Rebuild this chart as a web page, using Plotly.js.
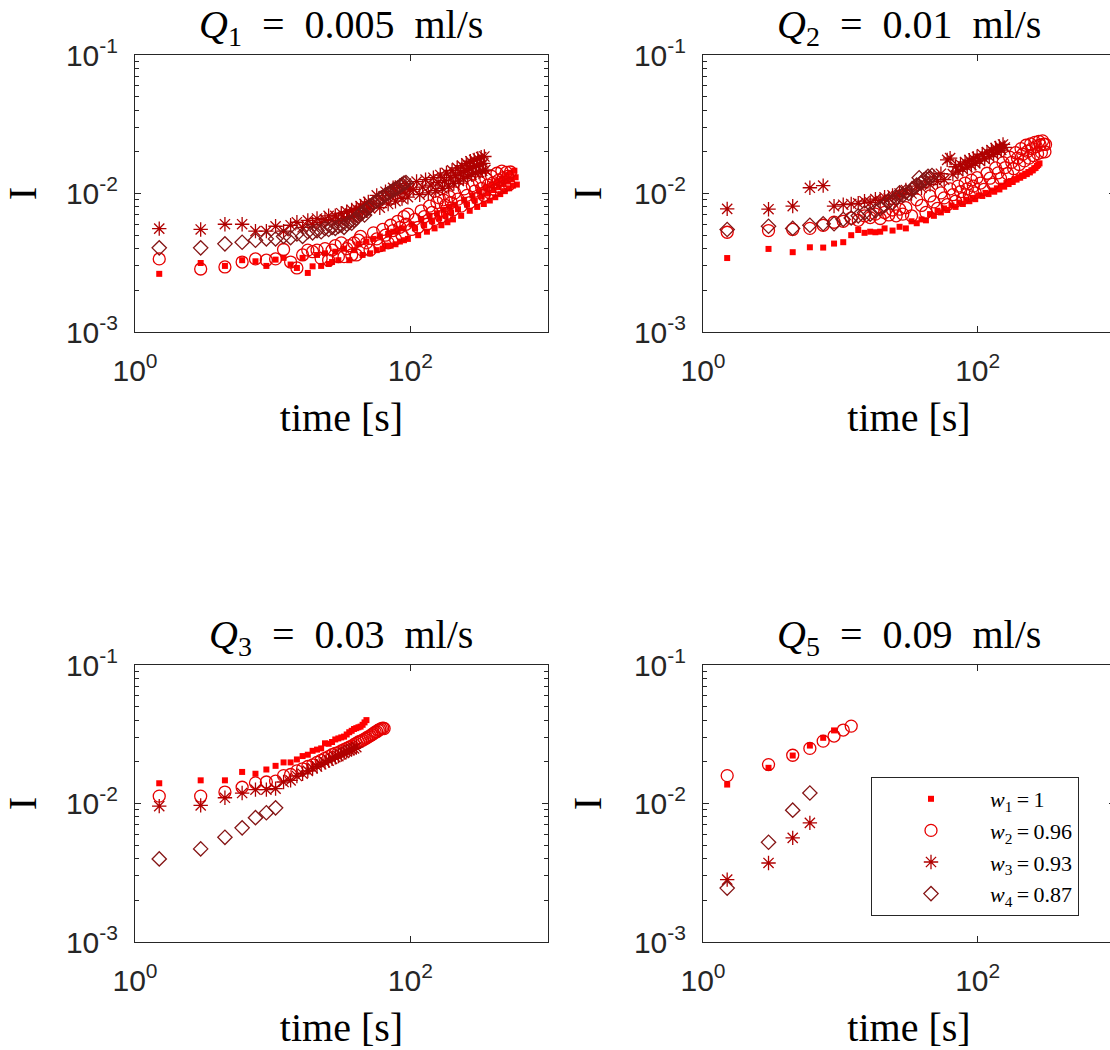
<!DOCTYPE html>
<html><head><meta charset="utf-8">
<script src="https://cdn.plot.ly/plotly-3.0.1.min.js"></script>
<style>html,body{margin:0;padding:0;overflow:hidden;background:#fff;} #chart{width:1120px;height:1050px;}</style>
</head><body><div id="chart"></div>
<script>
// ---------- Q1 = 0.005 ml/s ----------
const q1SqT = [1.5,3,4.5,6,7.5,9,10.5,12,13.5,15,16.5,18,19.5,
  21,22.5,24,25.5,27,28.5,30,33,36,39,42,45,48,51,54,57,60,63,66,69,72,75,78,81,84,87,90,
  96,102,108,114,120,126,132,138,144,150,156,162,168,174,180,186,192,198,204,210,
  222,234,246,258,270,282,294,306,318,330,342,354,366,378,390,402,414,426,438,450,462,474,486,498,510,522,534,546,558,570,582,594];
const q1SqI = [2.63e-3,3.15e-3,3.0e-3,3.3e-3,3.24e-3,3.0e-3,3.33e-3,3.43e-3,3.07e-3,2.9e-3,3.43e-3,2.67e-3,2.98e-3,
  3.6e-3,3.0e-3,3.7e-3,3.1e-3,3.2e-3,3.8e-3,3.3e-3,4.0e-3,3.3e-3,3.9e-3,4.3e-3,3.6e-3,4.5e-3,3.7e-3,4.7e-3,3.9e-3,4.9e-3,4.0e-3,4.2e-3,5.1e-3,4.2e-3,5.3e-3,4.3e-3,5.4e-3,4.5e-3,5.6e-3,4.6e-3,
  4.7e-3,6.0e-3,5.6e-3,5.0e-3,6.5e-3,5.9e-3,5.3e-3,6.9e-3,6.3e-3,5.6e-3,7.2e-3,6.6e-3,5.9e-3,7.6e-3,6.9e-3,6.2e-3,8.0e-3,7.3e-3,6.5e-3,8.3e-3,
  7.7e-3,6.9e-3,9.0e-3,8.3e-3,7.5e-3,9.7e-3,8.9e-3,8.0e-3,1.04e-2,9.5e-3,8.4e-3,1.1e-2,1.0e-2,8.9e-3,1.16e-2,1.06e-2,9.4e-3,1.22e-2,1.11e-2,9.9e-3,1.28e-2,1.17e-2,1.04e-2,1.34e-2,1.22e-2,1.09e-2,1.41e-2,1.27e-2,1.14e-2,1.46e-2,1.31e-2,1.16e-2];
const q1CiT = [1.5,3,4.5,6,7.5,9,10.5,12,13.5,15,16.5,18,19.5,
  21,22.5,24,25.5,27,28.5,30,31.5,33,34.5,36,37.5,39,40.5,42,43.5,45,
  48,51,54,57,60,63,66,69,72,75,78,81,84,87,90,93,96,
  102,108,114,120,126,132,138,144,150,156,162,168,174,180,186,192,198,204,210,
  222,234,246,258,270,282,294,306,318,330,342,354,366,378,390,402,414,426,438,450,462,474,486,498,510,522,534];
const q1CiI = [3.37e-3,2.85e-3,2.95e-3,3.2e-3,3.37e-3,3.3e-3,3.37e-3,3.94e-3,3.2e-3,2.9e-3,3.6e-3,3.9e-3,3.8e-3,
  3.9e-3,3.4e-3,4.0e-3,3.3e-3,3.9e-3,4.2e-3,3.5e-3,4.4e-3,3.5e-3,4.0e-3,4.2e-3,3.6e-3,4.4e-3,3.6e-3,4.6e-3,4.9e-3,3.9e-3,
  4.4e-3,3.9e-3,5.2e-3,4.7e-3,4.2e-3,5.5e-3,5.0e-3,4.4e-3,5.9e-3,5.4e-3,4.7e-3,6.3e-3,5.7e-3,5.0e-3,6.8e-3,6.0e-3,7.1e-3,
  5.5e-3,6.5e-3,5.7e-3,7.5e-3,6.8e-3,6.0e-3,8.1e-3,7.3e-3,6.5e-3,8.6e-3,9.3e-3,6.8e-3,9.0e-3,8.2e-3,7.2e-3,9.5e-3,8.6e-3,7.6e-3,1.01e-2,
  9.1e-3,8.1e-3,1.08e-2,9.7e-3,8.6e-3,1.14e-2,1.04e-2,9.2e-3,1.21e-2,1.09e-2,9.7e-3,1.28e-2,1.15e-2,1.01e-2,1.33e-2,1.2e-2,1.06e-2,1.4e-2,1.25e-2,1.1e-2,1.45e-2,1.3e-2,1.14e-2,1.42e-2,1.33e-2,1.16e-2,1.43e-2];
const q1AsT = [1.5,3,4.5,6,7.5,9,10.5,12,13.5,15,16.5,18,19.5,21,22.5,24,25.5,27,
  28.5,30,31.5,33,34.5,36,37.5,39,40.5,42,43.5,45,46.5,48,49.5,51,
  54,57,60,63,66,69,72,75,78,81,84,87,90,93,96,99,
  105,111,117,123,129,135,141,147,153,159,165,171,177,183,189,195,201,207,213,219,225,231,237,243,249,255,261,267,273,279,285,291,297,303,309,315,321,327,333,339,345,351];
const q1AsI = [5.58e-3,5.5e-3,6.0e-3,6.0e-3,5.35e-3,5.35e-3,5.8e-3,5.35e-3,5.9e-3,6.2e-3,5.7e-3,6.4e-3,6.0e-3,6.6e-3,6.2e-3,6.5e-3,6.9e-3,6.4e-3,
  6.9e-3,6.4e-3,7.2e-3,6.6e-3,7.4e-3,6.8e-3,7.6e-3,6.9e-3,7.8e-3,7.1e-3,8.1e-3,7.3e-3,8.4e-3,7.5e-3,8.7e-3,7.8e-3,
  8.5e-3,9.7e-3,7.9e-3,9.1e-3,1.03e-2,8.4e-3,9.6e-3,1.1e-2,8.8e-3,1.0e-2,1.14e-2,9.2e-3,1.04e-2,1.18e-2,9.4e-3,1.07e-2,
  1.07e-2,1.22e-2,9.8e-3,1.11e-2,1.26e-2,1.01e-2,1.15e-2,1.3e-2,1.05e-2,1.2e-2,1.36e-2,1.09e-2,1.24e-2,1.41e-2,1.13e-2,1.3e-2,1.47e-2,1.18e-2,1.35e-2,1.53e-2,
  1.23e-2,1.41e-2,1.59e-2,1.28e-2,1.46e-2,1.65e-2,1.33e-2,1.51e-2,1.71e-2,1.37e-2,1.56e-2,1.75e-2,1.41e-2,1.59e-2,1.79e-2,1.43e-2,1.62e-2,1.83e-2,1.46e-2,1.65e-2,1.85e-2,1.48e-2];
const q1DiT = [1.5,3,4.5,6,7.5,9,10.5,12,13.5,15,16.5,18,19.5,21,22.5,24,25.5,27,28.5,30,31.5,33,34.5,36,37.5,39,40.5,42,43.5,45,46.5,48,49.5,51,54,57,60,63,66,69,72,75,78,81,84,87,90,93];
const q1DiI = [4.05e-3,4.05e-3,4.33e-3,4.45e-3,4.6e-3,4.7e-3,4.7e-3,4.9e-3,4.8e-3,5.1e-3,4.9e-3,5.3e-3,5.2e-3,5.4e-3,5.3e-3,5.6e-3,5.5e-3,5.7e-3,5.6e-3,5.8e-3,5.9e-3,5.7e-3,6.0e-3,6.2e-3,6.1e-3,6.4e-3,6.6e-3,6.9e-3,7.1e-3,7.3e-3,7.0e-3,7.6e-3,7.9e-3,8.1e-3,8.5e-3,8.8e-3,9.2e-3,9.4e-3,9.8e-3,1.0e-2,1.03e-2,1.06e-2,1.08e-2,1.1e-2,1.13e-2,1.16e-2,1.19e-2,1.2e-2];

// ---------- Q2 = 0.01 ml/s ----------
const q2SqT = [1.5,3,4.5,6,7.5,9,10.5,12,13.5,15,16.5,18,19.5,
  21,24,27,30,33,36,39,42,45,48,51,54,57,60,
  64.5,69,73.5,78,82.5,87,91.5,96,
  102,108,114,120,126,132,138,144,150,156,162,168,174,180,186,192,198,204,210,216,222,228,234,240,246,252,258,264,270,276,282];
const q2SqI = [3.42e-3,3.98e-3,3.77e-3,4.09e-3,4.07e-3,4.35e-3,4.45e-3,5.0e-3,5.45e-3,5.2e-3,5.3e-3,5.25e-3,5.3e-3,
  5.6e-3,5.4e-3,5.75e-3,5.6e-3,6.3e-3,6.1e-3,6.5e-3,6.4e-3,7.1e-3,6.9e-3,7.5e-3,7.3e-3,7.8e-3,7.6e-3,
  8.2e-3,8.0e-3,8.6e-3,8.4e-3,9.0e-3,8.8e-3,9.3e-3,9.1e-3,
  9.7e-3,9.6e-3,1.01e-2,9.9e-3,1.05e-2,1.03e-2,1.09e-2,1.07e-2,1.14e-2,1.12e-2,1.19e-2,1.17e-2,1.23e-2,1.21e-2,1.27e-2,1.26e-2,1.31e-2,1.3e-2,1.35e-2,1.34e-2,1.39e-2,1.38e-2,1.43e-2,1.42e-2,1.47e-2,1.47e-2,1.52e-2,1.53e-2,1.58e-2,1.61e-2,1.65e-2];
const q2CiT = [1.5,3,4.5,6,7.5,9,10.5,12,13.5,15,16.5,18,19.5,21,22.5,24,25.5,27,28.5,30,
  33,36,39,42,45,48,51,54,57,60,63,66,69,72,75,78,81,84,87,90,93,96,99,
  105,111,117,123,129,135,141,147,153,159,165,171,177,183,189,195,201,207,213,219,225,231,237,243,249,255,261,267,273,279,285,291,297,303,309,312];
const q2CiI = [5.25e-3,5.4e-3,5.5e-3,5.6e-3,5.9e-3,6.2e-3,6.3e-3,6.65e-3,6.4e-3,6.9e-3,6.7e-3,7.1e-3,6.6e-3,7.3e-3,7.0e-3,7.6e-3,6.9e-3,7.7e-3,7.1e-3,7.9e-3,
  6.9e-3,9.0e-3,8.2e-3,7.3e-3,9.6e-3,8.7e-3,7.8e-3,1.01e-2,9.3e-3,8.3e-3,1.08e-2,9.8e-3,8.8e-3,1.13e-2,1.03e-2,9.2e-3,1.19e-2,1.08e-2,9.7e-3,1.25e-2,1.13e-2,1.01e-2,1.3e-2,
  1.19e-2,1.07e-2,1.4e-2,1.29e-2,1.17e-2,1.53e-2,1.41e-2,1.28e-2,1.67e-2,1.54e-2,1.39e-2,1.83e-2,1.68e-2,1.51e-2,1.97e-2,1.8e-2,1.62e-2,2.11e-2,1.92e-2,1.72e-2,2.23e-2,2.02e-2,1.8e-2,2.28e-2,2.11e-2,1.88e-2,2.34e-2,2.18e-2,1.94e-2,2.38e-2,2.24e-2,1.98e-2,2.4e-2,2.27e-2,2.0e-2,2.26e-2];
const q2AsT = [1.5,3,4.5,6,7.5,9,10.5,12,13.5,15,16.5,18,19.5,21,22.5,24,25.5,27,28.5,30,
  33,36,39,42,45,48,51,54,57,60,63,66,69,72,75,78,81,84,87,90,93,96,99,
  103.5,108,112.5,117,121.5,126,130.5,135,139.5,144,148.5,153,157.5];
const q2AsI = [7.75e-3,7.7e-3,8.1e-3,1.1e-2,1.14e-2,8.1e-3,8.3e-3,8.4e-3,8.5e-3,8.8e-3,8.6e-3,9.1e-3,8.9e-3,9.4e-3,9.2e-3,9.7e-3,9.5e-3,1.0e-2,9.8e-3,1.06e-2,
  1.0e-2,1.13e-2,1.1e-2,1.23e-2,1.16e-2,1.32e-2,1.22e-2,1.39e-2,1.26e-2,1.75e-2,1.8e-2,1.38e-2,1.56e-2,1.45e-2,1.62e-2,1.5e-2,1.69e-2,1.55e-2,1.74e-2,1.6e-2,1.79e-2,1.65e-2,1.84e-2,
  1.72e-2,1.92e-2,1.78e-2,1.99e-2,1.85e-2,2.06e-2,1.92e-2,2.13e-2,1.99e-2,2.19e-2,2.06e-2,2.26e-2,2.15e-2];
const q2DiT = [1.5,3,4.5,6,7.5,9,10.5,12,13.5,15,16.5,18,19.5,21,22.5,24,25.5,27,28.5,30,31.5,33,34.5,36,37.5,39,40.5,42,43.5,45,46.5];
const q2DiI = [5.5e-3,5.8e-3,5.6e-3,5.9e-3,6.05e-3,6.05e-3,6.5e-3,6.65e-3,6.9e-3,7.25e-3,7.1e-3,7.5e-3,7.8e-3,8.2e-3,8.8e-3,8.6e-3,9.3e-3,1.01e-2,9.7e-3,1.03e-2,1.0e-2,1.07e-2,1.1e-2,1.15e-2,1.3e-2,1.2e-2,1.25e-2,1.28e-2,1.33e-2,1.3e-2,1.35e-2];

// ---------- Q3 = 0.03 ml/s ----------
const q3SqT = [1.5,3,4.5,6,7.5,9,10.5,12,13.5,15,16.5,18,19.5,21,22.5,24,25.5,27,28.5,30,31.5,33,34.5,36,37.5,39,40.5,42,43.5,45,46.5,48];
const q3SqI = [1.4e-2,1.47e-2,1.47e-2,1.69e-2,1.64e-2,1.76e-2,1.87e-2,1.98e-2,1.98e-2,2.08e-2,2.2e-2,2.25e-2,2.4e-2,2.45e-2,2.5e-2,2.72e-2,2.7e-2,2.78e-2,2.9e-2,2.95e-2,3.0e-2,3.04e-2,3.15e-2,3.27e-2,3.35e-2,3.45e-2,3.5e-2,3.55e-2,3.59e-2,3.7e-2,3.85e-2,4.0e-2];
const q3CiT = [1.5,3,4.5,6,7.5,9,10.5,12,13.5,15,16.5,18,19.5,21,22.5,24,25.5,27,28.5,30,31.5,33,34.5,36,37.5,39,40.5,42,43.5,45,46.5,48,49.5,51,52.5,54,55.5,57,58.5,60,61.5,63,64.5];
const q3CiI = [1.13e-2,1.13e-2,1.21e-2,1.31e-2,1.41e-2,1.43e-2,1.45e-2,1.59e-2,1.62e-2,1.72e-2,1.78e-2,1.85e-2,1.9e-2,1.98e-2,2.05e-2,2.12e-2,2.18e-2,2.25e-2,2.3e-2,2.33e-2,2.4e-2,2.45e-2,2.5e-2,2.55e-2,2.6e-2,2.66e-2,2.72e-2,2.78e-2,2.82e-2,2.86e-2,2.92e-2,2.97e-2,3.03e-2,3.08e-2,3.14e-2,3.2e-2,3.27e-2,3.3e-2,3.38e-2,3.42e-2,3.47e-2,3.5e-2,3.48e-2];
const q3AsT = [1.5,3,4.5,6,7.5,9,10.5,12,13.5,15,16.5,18,19.5,21,22.5,24,25.5,27,28.5,30,31.5,33,34.5,36,37.5,39,40.5];
const q3AsI = [9.57e-3,9.7e-3,1.1e-2,1.19e-2,1.26e-2,1.26e-2,1.28e-2,1.43e-2,1.47e-2,1.58e-2,1.64e-2,1.72e-2,1.8e-2,1.85e-2,1.92e-2,1.98e-2,2.04e-2,2.1e-2,2.16e-2,2.2e-2,2.26e-2,2.32e-2,2.38e-2,2.43e-2,2.47e-2,2.5e-2,2.55e-2];
const q3DiT = [1.5,3,4.5,6,7.5,9,10.5];
const q3DiI = [3.98e-3,4.7e-3,5.7e-3,6.67e-3,7.9e-3,8.57e-3,9.3e-3];

// ---------- Q5 = 0.09 ml/s ----------
const q5SqT = [1.5,3,4.5,6,7.5,9];
const q5SqI = [1.37e-2,1.81e-2,2.22e-2,2.62e-2,2.98e-2,3.37e-2];
const q5CiT = [1.5,3,4.5,6,7.5,9,10.5,12];
const q5CiI = [1.59e-2,1.91e-2,2.23e-2,2.5e-2,2.82e-2,3.07e-2,3.39e-2,3.62e-2];
const q5AsT = [1.5,3,4.5,6];
const q5AsI = [2.82e-3,3.72e-3,5.65e-3,7.25e-3];
const q5DiT = [1.5,3,4.5,6];
const q5DiI = [2.45e-3,5.25e-3,8.95e-3,1.19e-2];

const panelTitles = [
  '<i>Q</i><sub>1</sub>\u2002=\u20020.005\u2002ml/s',
  '<i>Q</i><sub>2</sub>\u2002=\u20020.01\u2002ml/s',
  '<i>Q</i><sub>3</sub>\u2002=\u20020.03\u2002ml/s',
  '<i>Q</i><sub>5</sub>\u2002=\u20020.09\u2002ml/s'
];
const seriesNames = ['<i>w</i><sub>1</sub>\u2009=\u20091','<i>w</i><sub>2</sub>\u2009=\u20090.96','<i>w</i><sub>3</sub>\u2009=\u20090.93','<i>w</i><sub>4</sub>\u2009=\u20090.87'];
const xTickVals = [1, 100];
const xTickText = ['10<sup>0</sup>','10<sup>2</sup>'];
const yTickVals = [0.001, 0.01, 0.1];
const yTickText = ['10<sup>-3</sup>','10<sup>-2</sup>','10<sup>-1</sup>'];

// ---------- build ----------
const panels = [
  [[q1SqT,q1SqI],[q1CiT,q1CiI],[q1AsT,q1AsI],[q1DiT,q1DiI]],
  [[q2SqT,q2SqI],[q2CiT,q2CiI],[q2AsT,q2AsI],[q2DiT,q2DiI]],
  [[q3SqT,q3SqI],[q3CiT,q3CiI],[q3AsT,q3AsI],[q3DiT,q3DiI]],
  [[q5SqT,q5SqI],[q5CiT,q5CiI],[q5AsT,q5AsI],[q5DiT,q5DiI]]
];
const styles = [
  {symbol:'square', size:6, color:'#ff0000', line:{width:0}},
  {symbol:'circle-open', size:12, color:'#e60000', line:{width:1.3}},
  {symbol:'asterisk-open', size:12, color:'#b00000', line:{width:1.3, color:'#b00000'}},
  {symbol:'diamond-open', size:11, color:'#851515', line:{width:1.3}}
];
const traces = [];
panels.forEach((p, pi) => {
  p.forEach((s, si) => {
    const sfx = pi === 0 ? '' : String(pi + 1);
    traces.push({
      type:'scatter', mode:'markers', x:s[0], y:s[1],
      xaxis:'x'+sfx, yaxis:'y'+sfx,
      name: seriesNames[si], showlegend: pi === 3,
      marker: styles[si], hoverinfo:'x+y'
    });
  });
});

const W = 1120, H = 1050;
const colL = [135/W, 548/W], colR = [703/W, 1115/W];
const rowT = [1-332/H, 1-55/H], rowB = [1-942/H, 1-665/H];
const minorVals = [];
[0.001, 0.01].forEach(d => { for (let k = 2; k <= 9; k++) minorVals.push(k*d); });

const axCol = '#262626';
const serif = '"Liberation Serif", "Times New Roman", serif';
const tickFont = {family:'"Liberation Sans", Arial, sans-serif', size:30, color:axCol};
const labFont = {family:serif, size:40, color:'#000'};
function xa(dom, anchor){
  return {domain:dom, anchor:anchor, type:'log', range:[0,3], showline:true, mirror:'ticks',
    linecolor:axCol, linewidth:1, ticks:'inside', ticklen:6, tickcolor:axCol, tickwidth:1,
    tickmode:'array', tickvals:xTickVals, ticktext:xTickText, tickfont:tickFont,
    ticklabelstandoff:12, showgrid:false, zeroline:false,
    title:{text:'time [s]', font:labFont, standoff:16}};
}
function ya(dom, anchor){
  return {domain:dom, anchor:anchor, type:'log', range:[-3,-1], showline:true, mirror:'ticks',
    linecolor:axCol, linewidth:1, ticks:'inside', ticklen:6, tickcolor:axCol, tickwidth:1,
    tickmode:'array', tickvals:yTickVals, ticktext:yTickText, tickfont:tickFont,
    ticklabelstandoff:10, showgrid:false, zeroline:false,
    minor:{tickmode:'array', tickvals:minorVals, ticks:'inside', ticklen:4, tickcolor:axCol, tickwidth:1, showgrid:false},
    title:{text:'I', font:labFont, standoff:19}};
}
const centers = [[colL,rowT],[colR,rowT],[colL,rowB],[colR,rowB]];
const annotations = centers.map((c, i) => ({
  text: panelTitles[i], xref:'paper', yref:'paper', showarrow:false,
  x:(c[0][0]+c[0][1])/2, y: (i < 2 ? 1-27/H : 1-637/H), xanchor:'center', yanchor:'middle',
  font:{family:serif, size:40, color:'#000'}
}));

const layout = {
  width:W, height:H, margin:{l:0,r:0,t:0,b:0}, paper_bgcolor:'#fff', plot_bgcolor:'#fff',
  showlegend:true,
  xaxis: xa(colL,'y'), yaxis: ya(rowT,'x'),
  xaxis2: xa(colR,'y2'), yaxis2: ya(rowT,'x2'),
  xaxis3: xa(colL,'y3'), yaxis3: ya(rowB,'x3'),
  xaxis4: xa(colR,'y4'), yaxis4: ya(rowB,'x4'),
  annotations: annotations,
  legend:{x:871/W, y:1-777/H, xanchor:'left', yanchor:'top', bgcolor:'#fff',
    bordercolor:axCol, borderwidth:1, itemwidth:108,
    font:{family:serif, size:22, color:'#000'}}
};
Plotly.newPlot('chart', traces, layout, {displayModeBar:false, staticPlot:true});
</script></body></html>
